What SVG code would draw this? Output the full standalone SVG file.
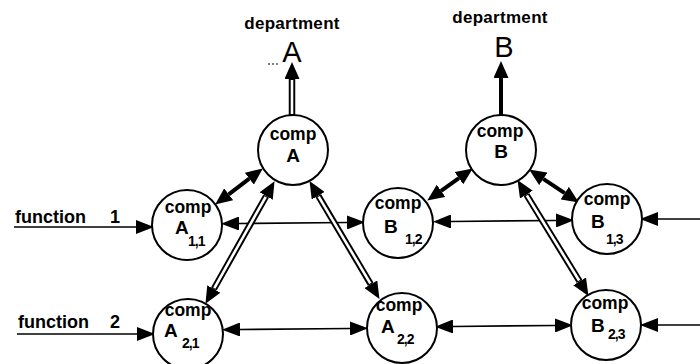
<svg xmlns="http://www.w3.org/2000/svg" width="700" height="364" viewBox="0 0 700 364">
<style>
text{font-family:"Liberation Sans",Arial,sans-serif;fill:#000}
.lbl{font-weight:bold;font-size:17px;letter-spacing:0.3px}
.fn{font-weight:bold;font-size:18px}
.big{font-size:29px}
.cp{font-weight:bold;font-size:17.5px;text-anchor:middle}
.ml{font-weight:bold;font-size:19px}
.sb{font-weight:bold;font-size:14px;letter-spacing:-1px}
circle{fill:#fff;stroke:#000;stroke-width:2}
.thin{stroke:#000;stroke-width:1.7;fill:none;marker-start:url(#ah);marker-end:url(#ah)}
.thin1{stroke:#000;stroke-width:1.7;fill:none;marker-end:url(#ah)}
.thick{stroke:#000;stroke-width:4;fill:none;marker-start:url(#ahb);marker-end:url(#ahb)}
.dbl{stroke:#000;stroke-width:6.5;fill:none;marker-start:url(#ahb);marker-end:url(#ahb)}
.dbli{stroke:#fff;stroke-width:2.6;fill:none}
</style>
<defs>
<marker id="ah" markerUnits="userSpaceOnUse" viewBox="0 0 18 14" markerWidth="18" markerHeight="14" refX="0" refY="7" orient="auto-start-reverse"><path d="M0,0 L18,7 L0,14 z" fill="#000"/></marker>
<marker id="ahb" markerUnits="userSpaceOnUse" viewBox="0 0 17 15" markerWidth="17" markerHeight="15" refX="0" refY="7.5" orient="auto-start-reverse"><path d="M0,0 L17,7.5 L0,15 z" fill="#000"/></marker>
</defs>
<g id="labels">
<text class="lbl" x="292" y="29" text-anchor="middle">department</text>
<text class="big" x="292" y="62" text-anchor="middle">A</text>
<text class="lbl" x="500" y="23" text-anchor="middle">department</text>
<text class="big" x="504" y="57" text-anchor="middle">B</text>
<text class="fn" x="15" y="223">function</text>
<text class="fn" x="110" y="223">1</text>
<text class="fn" x="18" y="328">function</text>
<text class="fn" x="110" y="328">2</text>
<path d="M268,64 L280,64" stroke="#000" stroke-width="1" stroke-dasharray="2,2"/>
</g>
<g id="connectors">
<path class="dbl" d="M292,115 L292,79" style="marker-start:none"/>
<path class="dbli" d="M292,114 L292,80"/>
<path class="thick" d="M501,115 L501,78" style="marker-start:none"/>
<path class="thin1" d="M14,227 L136,227"/>
<path class="thin1" d="M17,334 L137,334"/>
<path class="thin1" d="M700,219 L658,219"/>
<path class="thin1" d="M700,325 L658,325"/>
<path class="thin" d="M239,223.5 L347,222.5"/>
<path class="thin" d="M451,221.5 L556,220.5"/>
<path class="thin" d="M240,329.5 L350,328.5"/>
<path class="thin" d="M453,326.5 L555,325.5"/>
<path class="thick" d="M249.3,178.7 L228.7,194.3"/>
<path class="thick" d="M458.9,178.2 L441.1,190.8"/>
<path class="thick" d="M543.3,178.9 L564.7,193.1"/>
<path class="dbl" d="M266.2,196 L213.8,289"/>
<path class="dbli" d="M265.7,196.9 L214.3,288.1"/>
<path class="dbl" d="M318.2,195.7 L370.8,284.3"/>
<path class="dbli" d="M318.7,196.6 L370.3,283.4"/>
<path class="dbl" d="M526.4,194.6 L579.6,281.4"/>
<path class="dbli" d="M526.9,195.5 L579.1,280.5"/>
</g>
<g id="compA"><circle cx="293" cy="150" r="35"/><text class="cp" x="293" y="140">comp</text><text class="ml" x="293" y="162" text-anchor="middle">A</text></g>
<g id="compB"><circle cx="501" cy="150" r="35"/><text class="cp" x="500" y="137">comp</text><text class="ml" x="501" y="158" text-anchor="middle">B</text></g>
<g id="compA11"><circle cx="187" cy="225" r="35"/><text class="cp" x="188" y="213">comp</text><text class="ml" x="175" y="234">A</text><text class="sb" x="188" y="246">1,1</text></g>
<g id="compB12"><circle cx="398" cy="223" r="35"/><text class="cp" x="398" y="209">comp</text><text class="ml" x="384" y="233">B</text><text class="sb" x="405" y="244">1,2</text></g>
<g id="compB13"><circle cx="607" cy="219" r="35"/><text class="cp" x="607" y="205">comp</text><text class="ml" x="591" y="228">B</text><text class="sb" x="606" y="244">1,3</text></g>
<g id="compA21"><circle cx="188" cy="334" r="35"/><text class="cp" x="188" y="316">comp</text><text class="ml" x="164" y="337">A</text><text class="sb" x="182" y="348">2,1</text></g>
<g id="compA22"><circle cx="402" cy="328" r="35"/><text class="cp" x="399" y="311">comp</text><text class="ml" x="381" y="333">A</text><text class="sb" x="397" y="344">2,2</text></g>
<g id="compB23"><circle cx="606" cy="325" r="35"/><text class="cp" x="605" y="309">comp</text><text class="ml" x="591" y="332">B</text><text class="sb" x="608" y="339">2,3</text></g>
</svg>
